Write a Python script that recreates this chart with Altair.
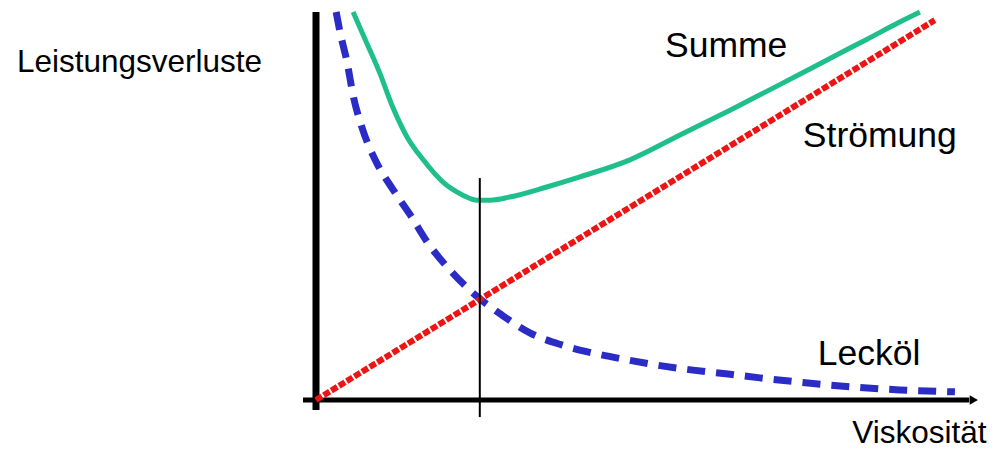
import altair as alt
import pandas as pd

# Strömungsverluste: linear in der Viskosität
visc_stroemung = [0.0, 9.52]
loss_stroemung = [0.0, 9.79]

# Lecköl-Verluste: fallen mit steigender Viskosität
visc_leckoel = [0.31, 0.37, 0.48, 0.57, 0.71, 0.91, 1.19, 1.45, 1.72, 2.06, 2.40,
                2.86, 3.29, 3.78, 4.26, 4.80, 5.32, 5.80, 6.34, 6.83, 7.45, 8.22, 8.98, 9.83]
loss_leckoel = [10.0, 9.48, 8.69, 7.86, 7.01, 6.19, 5.41, 4.77, 4.05, 3.35, 2.78,
                2.19, 1.73, 1.42, 1.21, 1.03, 0.88, 0.77, 0.67, 0.57, 0.46, 0.34, 0.26, 0.21]

# Summe der Verluste
visc_summe = [0.57, 0.78, 0.98, 1.18, 1.40, 1.65, 1.95, 2.26, 2.48, 2.68, 2.98,
              3.55, 4.06, 4.83, 5.60, 6.37, 6.94, 7.45, 7.95, 8.48, 8.98, 9.29]
loss_summe = [10.0, 9.20, 8.43, 7.55, 6.78, 6.19, 5.62, 5.28, 5.15, 5.15, 5.23,
              5.49, 5.75, 6.19, 6.83, 7.47, 7.96, 8.40, 8.84, 9.30, 9.74, 10.0]

# Optimale Viskosität (Minimum der Summe)
visc_optimum = [2.52]
optimum_low = [-0.44]
optimum_high = [5.72]

# Beschriftungen
label_text = ["Leistungsverluste", "Summe", "Strömung", "Lecköl", "Viskosität"]
label_x = [-4.60, 5.37, 7.49, 7.72, 8.25]
label_y = [8.45, 8.84, 6.52, 0.90, -1.11]
label_size = [31.5, 35.5, 35.5, 35.5, 31.5]

xs = alt.Scale(domain=[0, 10], nice=False, zero=False)
ys = alt.Scale(domain=[0, 10], nice=False, zero=False)

df_st = pd.DataFrame({"v": visc_stroemung, "p": loss_stroemung})
df_lk = pd.DataFrame({"v": visc_leckoel, "p": loss_leckoel})
df_su = pd.DataFrame({"v": visc_summe, "p": loss_summe})
df_opt = pd.DataFrame({"v": visc_optimum, "lo": optimum_low, "hi": optimum_high})
df_lab = pd.DataFrame({"t": label_text, "x": label_x, "y": label_y, "s": label_size})

X = alt.X("v:Q", scale=xs, axis=None)
Y = alt.Y("p:Q", scale=ys, axis=None)

# Achsen
y_axis = alt.Chart(pd.DataFrame({"x": [0.0], "y": [-0.26], "y2": [10.0]})).mark_rule(
    color="black", strokeWidth=7
).encode(x=alt.X("x:Q", scale=xs, axis=None), y=alt.Y("y:Q", scale=ys, axis=None), y2="y2:Q")

x_axis = alt.Chart(pd.DataFrame({"x": [-0.2], "x2": [10.05], "y": [0.0]})).mark_rule(
    color="black", strokeWidth=5
).encode(x=alt.X("x:Q", scale=xs, axis=None), x2="x2:Q", y=alt.Y("y:Q", scale=ys, axis=None))

arrow = alt.Chart(pd.DataFrame({"x": [10.12], "y": [0.0]})).mark_point(
    shape="triangle-right", filled=True, color="black", size=90, opacity=1
).encode(x=alt.X("x:Q", scale=xs, axis=None), y=alt.Y("y:Q", scale=ys, axis=None))

leck = alt.Chart(df_lk).mark_line(
    color="#2b2bc6", strokeWidth=7, strokeDash=[18, 11], interpolate="monotone"
).encode(x=X, y=Y)

stroem = alt.Chart(df_st).mark_line(
    color="#ee1414", strokeWidth=6, strokeDash=[7, 2]
).encode(x=X, y=Y)

summe = alt.Chart(df_su).mark_line(
    color="#1fbf8c", strokeWidth=5, interpolate="monotone"
).encode(x=X, y=Y)

optimum = alt.Chart(df_opt).mark_rule(color="black", strokeWidth=2).encode(
    x=X, y=alt.Y("lo:Q", scale=ys, axis=None), y2="hi:Q"
)

labels = alt.Chart(df_lab).mark_text(
    align="left", baseline="alphabetic", font="Liberation Sans", color="black"
).encode(
    x=alt.X("x:Q", scale=xs, axis=None),
    y=alt.Y("y:Q", scale=ys, axis=None),
    text="t:N",
    size=alt.Size("s:Q", scale=None, legend=None),
)

chart = alt.layer(
    y_axis, x_axis, arrow, leck, stroem, summe, optimum, labels
).properties(
    width=650,
    height=388,
    padding={"left": 316, "top": 12, "right": 28, "bottom": 49},
    autosize=alt.AutoSizeParams(type="none"),
    background="white",
).configure_view(stroke=None)

chart.save("out.html", embed_options={"renderer": "svg", "actions": False})
